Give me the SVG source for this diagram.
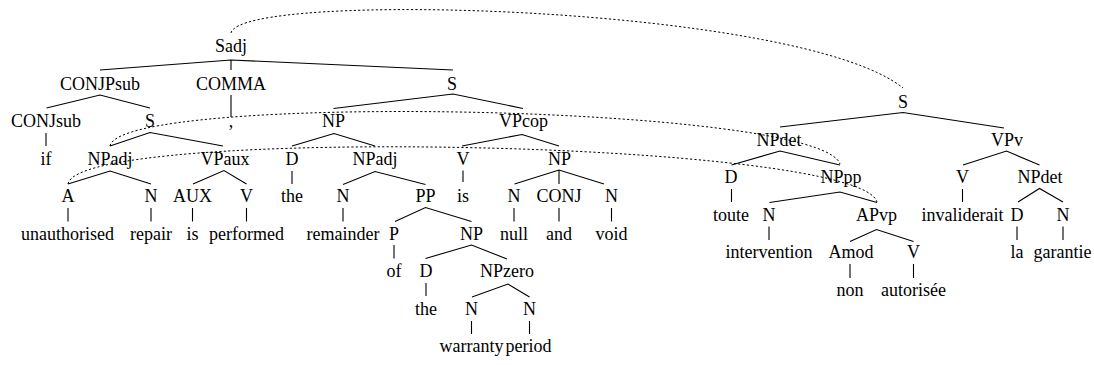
<svg xmlns="http://www.w3.org/2000/svg" width="1094" height="365" viewBox="0 0 1094 365">
<style>
text{font-family:"Liberation Serif","Times New Roman",serif;font-size:18px;fill:#000;text-anchor:middle}
.e{stroke:#000;stroke-width:1.1;fill:none}
.d{stroke:#000;stroke-width:1;fill:none;stroke-dasharray:2.2 2.2}
</style>
<rect width="1094" height="365" fill="#fff"/>
<g id="connectors">
<g id="edges">
<path class="e" d="M100,70L231,60L453,70M231,60V70"/>
<path class="e" d="M46.5,108L100,95L150,108"/>
<path class="e" d="M231,95V117"/>
<path class="e" d="M333.5,108.5L453,94L523,108.5"/>
<path class="e" d="M46,133V146"/>
<path class="e" d="M110,146L150,132.5L223,146"/>
<path class="e" d="M292,146L334,133.5L375,146"/>
<path class="e" d="M462,146L522,134.5L559,146"/>
<path class="e" d="M68,184L110,171L151,184"/>
<path class="e" d="M193,184L224,170.5L246.5,184"/>
<path class="e" d="M292,171V184"/>
<path class="e" d="M343,184.5L375,171.5L425.5,184.5"/>
<path class="e" d="M463,170.5V182"/>
<path class="e" d="M514.5,184L559,170L604,184M559,170V184"/>
<path class="e" d="M68,208V221.5M151,208V221.5M192.5,208V221.5M246.5,208V221.5M343,208V221.5M514,208V221.5M559,208V221.5M611.5,208V221.5"/>
<path class="e" d="M395,221.5L425.5,207.5L471.5,221.5"/>
<path class="e" d="M394,245V258.5"/>
<path class="e" d="M425.5,258.5L471.5,245L507,259"/>
<path class="e" d="M426,283V296"/>
<path class="e" d="M472,297L508,284L529.5,297"/>
<path class="e" d="M471.5,321V334M529.5,321V334"/>
<path class="e" d="M780,127L903,112.5L1004,128"/>
<path class="e" d="M731.5,165L780,151L840,165"/>
<path class="e" d="M963,165L1006.5,151L1039.5,165"/>
<path class="e" d="M731.5,189V202"/>
<path class="e" d="M769.5,202.5L840,192L877,202.5"/>
<path class="e" d="M962.5,189V202"/>
<path class="e" d="M1018,202L1039.5,188.5L1063,202"/>
<path class="e" d="M769,226.5V240M1017,226.5V240M1063,226.5V240"/>
<path class="e" d="M850,241.5L876.5,229.5L913.5,241.5"/>
<path class="e" d="M850,264V278M913.5,264V278"/>
</g>
<g id="alignments">
<path class="d" d="M231,33C240,-10 800,5 903,88"/>
<path class="d" d="M110,146C120,92 820,104 840,164"/>
<path class="d" d="M68,184C78,125 860,140 877,202"/>
</g>
</g>
<g id="en-Sadj"><text x="231" y="52">Sadj</text></g>
<g id="en-CONJPsub"><text x="100" y="89.5">CONJPsub</text></g>
<g id="en-COMMA"><text x="231" y="89.5">COMMA</text></g>
<g id="en-S"><text x="452" y="89.5">S</text></g>
<g id="en-CONJsub"><text x="46" y="127">CONJsub</text></g>
<g id="en-S2"><text x="150" y="127">S</text></g>
<g id="en-comma-word"><text x="231" y="127">,</text></g>
<g id="en-NP"><text x="333.5" y="127">NP</text></g>
<g id="en-VPcop"><text x="523.5" y="127">VPcop</text></g>
<g id="en-if"><text x="46" y="164.5">if</text></g>
<g id="en-NPadj"><text x="110" y="164.5">NPadj</text></g>
<g id="en-VPaux"><text x="225" y="164.5">VPaux</text></g>
<g id="en-D"><text x="292" y="164.5">D</text></g>
<g id="en-NPadj2"><text x="375" y="164.5">NPadj</text></g>
<g id="en-V"><text x="463" y="164.5">V</text></g>
<g id="en-NP2"><text x="559.5" y="164.5">NP</text></g>
<g id="en-A"><text x="68" y="202">A</text></g>
<g id="en-N"><text x="151" y="202">N</text></g>
<g id="en-AUX"><text x="192.5" y="202">AUX</text></g>
<g id="en-V2"><text x="246.5" y="202">V</text></g>
<g id="en-the"><text x="292" y="202">the</text></g>
<g id="en-N2"><text x="343" y="202">N</text></g>
<g id="en-PP"><text x="425.5" y="202">PP</text></g>
<g id="en-is"><text x="463" y="202">is</text></g>
<g id="en-N3"><text x="514" y="202">N</text></g>
<g id="en-CONJ"><text x="559" y="202">CONJ</text></g>
<g id="en-N4"><text x="611.5" y="202">N</text></g>
<g id="en-unauthorised"><text x="67.5" y="239.5">unauthorised</text></g>
<g id="en-repair"><text x="151" y="239.5">repair</text></g>
<g id="en-is2"><text x="192.5" y="239.5">is</text></g>
<g id="en-performed"><text x="246.5" y="239.5">performed</text></g>
<g id="en-remainder"><text x="343" y="239.5">remainder</text></g>
<g id="en-P"><text x="394" y="239.5">P</text></g>
<g id="en-NP3"><text x="471.5" y="239.5">NP</text></g>
<g id="en-null"><text x="514" y="239.5">null</text></g>
<g id="en-and"><text x="559" y="239.5">and</text></g>
<g id="en-void"><text x="611.5" y="239.5">void</text></g>
<g id="en-of"><text x="394" y="277">of</text></g>
<g id="en-D2"><text x="426" y="277">D</text></g>
<g id="en-NPzero"><text x="507" y="277">NPzero</text></g>
<g id="en-the2"><text x="426" y="314.5">the</text></g>
<g id="en-N5"><text x="471.5" y="314.5">N</text></g>
<g id="en-N6"><text x="529.5" y="314.5">N</text></g>
<g id="en-warranty"><text x="471.5" y="352">warranty</text></g>
<g id="en-period"><text x="528.5" y="352">period</text></g>
<g id="fr-S"><text x="903" y="108">S</text></g>
<g id="fr-NPdet"><text x="779" y="145.5">NPdet</text></g>
<g id="fr-VPv"><text x="1007" y="145.5">VPv</text></g>
<g id="fr-D"><text x="731" y="183">D</text></g>
<g id="fr-NPpp"><text x="841" y="183">NPpp</text></g>
<g id="fr-V"><text x="962.5" y="183">V</text></g>
<g id="fr-NPdet2"><text x="1040" y="183">NPdet</text></g>
<g id="fr-toute"><text x="731" y="220.5">toute</text></g>
<g id="fr-N"><text x="769" y="220.5">N</text></g>
<g id="fr-APvp"><text x="876.5" y="220.5">APvp</text></g>
<g id="fr-invaliderait"><text x="962.5" y="220.5">invaliderait</text></g>
<g id="fr-D2"><text x="1017" y="220.5">D</text></g>
<g id="fr-N2"><text x="1063" y="220.5">N</text></g>
<g id="fr-intervention"><text x="769" y="258">intervention</text></g>
<g id="fr-Amod"><text x="851" y="258">Amod</text></g>
<g id="fr-V2"><text x="913.5" y="258">V</text></g>
<g id="fr-la"><text x="1017" y="258">la</text></g>
<g id="fr-garantie"><text x="1062.5" y="258">garantie</text></g>
<g id="fr-non"><text x="850" y="295.5">non</text></g>
<g id="fr-autorisee"><text x="913.5" y="295.5">autorisée</text></g>
</svg>
